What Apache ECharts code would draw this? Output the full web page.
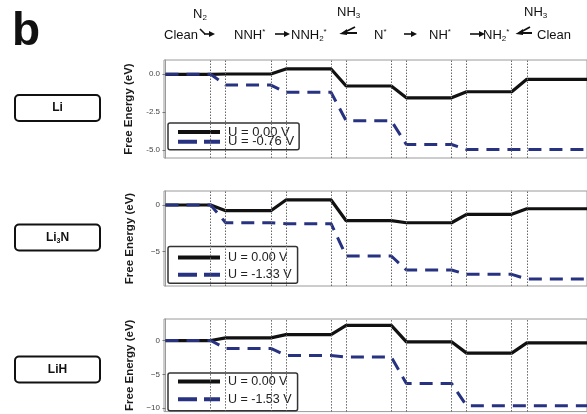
<!DOCTYPE html>
<html>
<head>
<meta charset="utf-8">
<script src="https://cdn.jsdelivr.net/npm/echarts@6/dist/echarts.min.js"></script>
<style>
html, body { margin: 0; padding: 0; background: #fff; }
#chart { width: 587px; height: 414px; }
</style>
</head>
<body>
<div id="chart"></div>
<script>
// reaction steps, one energy level each
var steps = ['Clean', 'NNH*', 'NNH2*', 'N*', 'NH*', 'NH2*', 'Clean'];

// free energy (eV) of each step
var liU0 = [0, 0.02, 0.35, -0.77, -1.55, -1.15, -0.33];
var liU = [0, -0.71, -1.19, -3.06, -4.62, -4.95, -4.95];
var li3nU0 = [0, -0.61, 0.54, -1.68, -1.90, -1.00, -0.40];
var li3nU = [0, -1.90, -2.00, -5.46, -6.96, -7.42, -7.92];
var lihU0 = [0, 0.40, 0.88, 2.24, -0.19, -1.86, -0.34];
var lihU = [0, -1.17, -2.20, -2.45, -6.34, -9.62, -9.62];

var seriesNames = ['U = 0.00 V', 'U = -0.76 V', 'U = -1.33 V', 'U = -1.53 V'];
var yTicks = [[0, -2.5, -5], [0, -5], [0, -5, -10]];

var font = 'Liberation Sans, Arial, sans-serif';
var levelW = 3, stepW = 4, xMax = 28;
var black = '#111', navy = '#273381';

var panels = [
    { top: 60, height: 98, min: -5.51, max: 0.94, u0: liU0, u: liU,
      legendPos: { top: 123 }, pad: [2.5, 5, 1.5, 8], gap: -3.3, fs: 13 },
    { top: 191, height: 95, min: -8.67, max: 1.5, u0: li3nU0, u: li3nU,
      legendPos: { top: 246.5 }, pad: [4.5, 6, 2, 8], gap: 4.3, fs: 12.5 },
    { top: 319, height: 95, min: -10.5, max: 3.18, u0: lihU0, u: lihU,
      legendPos: { bottom: 3.3 }, pad: [2, 6, 5, 8], gap: 4.6, fs: 12.5 }
];

// level i sits on [4i, 4i+3], the last one runs to the edge
function levels(vals) {
    var pts = [];
    vals.forEach(function (v, i) {
        pts.push([i * stepW, v]);
        pts.push([i === vals.length - 1 ? xMax : i * stepW + levelW, v]);
    });
    return pts;
}

// dotted lines at both ends of every transition
var bounds = [];
for (var i = 0; i < steps.length - 1; i++) {
    bounds.push({ xAxis: i * stepW + levelW });
    bounds.push({ xAxis: (i + 1) * stepW });
}

var grids = [], xAxes = [], yAxes = [], series = [], legends = [];
panels.forEach(function (p, k) {
    grids.push({ left: 164, right: -7, top: p.top, height: p.height, show: true, borderColor: '#9a9a9a', borderWidth: 1 });
    xAxes.push({
        type: 'value', gridIndex: k, min: -0.1, max: xMax,
        axisLine: { show: false }, axisTick: { show: false }, axisLabel: { show: false }, splitLine: { show: false }
    });
    yAxes.push({
        type: 'value', gridIndex: k, min: p.min, max: p.max,
        name: 'Free Energy (eV)', nameLocation: 'middle', nameGap: 28,
        nameTextStyle: { fontFamily: font, fontWeight: 'bold', fontSize: 11.5, color: '#1a1a1a' },
        axisLine: { show: true, lineStyle: { color: '#9a9a9a' } },
        axisTick: { show: true, length: 3, customValues: yTicks[k], lineStyle: { color: '#777' } },
        axisLabel: {
            customValues: yTicks[k], margin: 4, fontSize: 8, color: '#444', fontFamily: font,
            formatter: function (v) {
                return k === 0 ? v.toFixed(1) : String(v).replace('-', '\u2212');
            }
        },
        splitLine: { show: false }
    });
    series.push({
        name: seriesNames[0], type: 'line', xAxisIndex: k, yAxisIndex: k,
        data: levels(p.u0), symbol: 'none', silent: true, z: 3,
        lineStyle: { color: black, width: 3.2 }, itemStyle: { color: black },
        markLine: {
            silent: true, symbol: 'none', label: { show: false },
            lineStyle: { color: '#666', type: [1.5, 1.5], width: 1 },
            data: bounds
        }
    });
    series.push({
        name: seriesNames[k + 1], type: 'line', xAxisIndex: k, yAxisIndex: k,
        data: levels(p.u), symbol: 'none', silent: true, z: 4,
        lineStyle: { color: navy, width: 3, type: [13, 8] }, itemStyle: { color: navy }
    });
    legends.push(Object.assign({
        data: [
            { name: seriesNames[0], lineStyle: { width: 4, color: black, type: 'solid' } },
            { name: seriesNames[k + 1], lineStyle: { width: 4, color: navy, type: [19, 7] } }
        ],
        orient: 'vertical', left: 168,
        itemWidth: 42, itemHeight: 10, itemGap: p.gap, padding: p.pad,
        backgroundColor: '#fff', borderColor: '#333', borderWidth: 1.5, borderRadius: 2,
        selectedMode: false,
        itemStyle: { opacity: 0 },
        textStyle: { fontFamily: font, fontSize: p.fs, color: '#222', padding: [0, 0, 0, 3] }
    }, p.legendPos));
});

var rich = {
    sub: { fontFamily: font, fontSize: 8, fill: '#111', padding: [8, 0, 0, 0] },
    sup: { fontFamily: font, fontSize: 8, fill: '#111', padding: [0, 0, 7, 0] }
};
function label(x, y, text, size, weight) {
    return {
        type: 'text', x: x, y: y, z: 10,
        style: { text: text, fontFamily: font, fontSize: size, fontWeight: weight || 'normal', fill: '#111', verticalAlign: 'middle', rich: rich }
    };
}
function arrow(x1, x2, y) {
    return [
        { type: 'line', shape: { x1: x1, y1: y, x2: x2 - 4, y2: y }, style: { stroke: '#111', lineWidth: 1.6 } },
        { type: 'polygon', shape: { points: [[x2, y], [x2 - 6, y - 3], [x2 - 6, y + 3]] }, style: { fill: '#111' } }
    ];
}
function hookIn(x1, x2, y) {
    return arrow(x1 + 4, x2, y).concat([
        { type: 'polyline', shape: { points: [[x1, y - 5], [x1 + 5, y]] }, style: { stroke: '#111', lineWidth: 1.6 } }
    ]);
}
function hookOut(x1, x2, y) {
    return [
        { type: 'polyline', shape: { points: [[x2 - 2, y - 7], [x1 + 4, y - 1], [x2, y - 1]] }, style: { stroke: '#111', lineWidth: 1.8, fill: null } },
        { type: 'polygon', shape: { points: [[x1 + 1, y], [x1 + 8, y - 5], [x1 + 8, y + 1]] }, style: { fill: '#111' } }
    ];
}

var graphic = [
    label(12, 32, 'b', 46, 'bold'),
    label(164, 35, 'Clean', 13),
    label(193, 14, 'N{sub|2}', 13),
    label(234, 35, 'NNH{sup|*}', 13),
    label(291, 35, 'NNH{sub|2}{sup|*}', 13),
    label(337, 12, 'NH{sub|3}', 13),
    label(374, 35, 'N{sup|*}', 13),
    label(429, 35, 'NH{sup|*}', 13),
    label(483, 35, 'NH{sub|2}{sup|*}', 13),
    label(524, 12, 'NH{sub|3}', 13),
    label(537, 35, 'Clean', 13)
].concat(hookIn(200, 215, 34), arrow(275, 290, 34), hookOut(339, 357, 34),
    arrow(404, 417, 34), arrow(470, 485, 34), hookOut(515, 532, 34));

// catalyst tags on the left
var tags = [['Li', 108], ['Li{sub|3}N', 237.5], ['LiH', 369.5]];
tags.forEach(function (t) {
    graphic.push({
        type: 'rect', shape: { x: 15, y: t[1] - 13, width: 85, height: 26, r: 4 },
        style: { fill: '#fff', stroke: '#111', lineWidth: 2 }
    });
    graphic.push({
        type: 'text', x: 57.5, y: t[1], z: 10,
        style: {
            text: t[0], fontFamily: font, fontSize: 12, fontWeight: 'bold', fill: '#111',
            align: 'center', verticalAlign: 'middle',
            rich: { sub: { fontFamily: font, fontSize: 7, fontWeight: 'bold', fill: '#111', padding: [7, 0, 0, 0] } }
        }
    });
});

var chart = echarts.init(document.getElementById('chart'));
chart.setOption({
    animation: false,
    backgroundColor: '#fff',
    grid: grids,
    xAxis: xAxes,
    yAxis: yAxes,
    legend: legends,
    series: series,
    graphic: graphic
});
</script>
</body>
</html>
